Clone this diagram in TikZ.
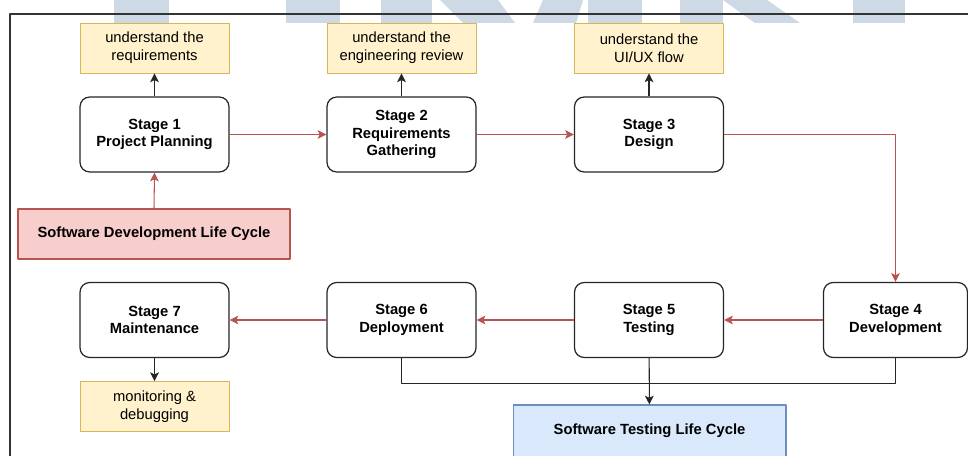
\documentclass[tikz,border=0pt]{standalone}
\usepackage{fontspec}
\setmainfont{Liberation Sans}
\usetikzlibrary{arrows.meta}
\definecolor{wmark}{RGB}{205,217,228}
\definecolor{ylwfill}{HTML}{FFF2CC}
\definecolor{ylwline}{HTML}{D6B656}
\definecolor{redfill}{HTML}{F8CECC}
\definecolor{redline}{HTML}{B85450}
\definecolor{bluefill}{HTML}{DAE8FC}
\definecolor{blueline}{HTML}{6C8EBF}
\begin{document}
\begin{tikzpicture}[x=0.02cm,y=-0.02cm,line join=round,font=\fontsize{8.4}{10.1}\selectfont,
	stage/.style={draw=black!85,line width=0.7pt,rounded corners=5.5pt,fill=white,minimum width=2.98cm,minimum height=1.5cm,align=center,font=\fontsize{8.4}{10.1}\selectfont\bfseries},
	note/.style={draw=ylwline,fill=ylwfill,line width=0.5pt,minimum width=2.98cm,minimum height=1cm,align=center},
	lifecycle/.style={line width=0.6pt,minimum width=5.44cm,minimum height=1cm,font=\fontsize{8.4}{10.1}\selectfont\bfseries},
	flow/.style={draw=redline,line width=0.6pt,-{Stealth[length=5pt,width=5pt,inset=1.2pt]}},
	link/.style={draw=black!85,line width=0.6pt,-{Stealth[length=5pt,width=5pt,inset=1.2pt]}}]
		\useasboundingbox (0,0) rectangle (968,456);
		\clip (0,0) rectangle (968,456);
		\fill[wmark] (114,0) rectangle (169,23);
		\fill[wmark] (286,0) rectangle (340,23);
		\fill[wmark] (381,0) rectangle (432,23);
		\fill[wmark] (440,0) -- (498,0) -- (515,23) -- (463,23) -- cycle;
		\fill[wmark] (543,0) -- (583,0) -- (576,23) -- (533,23) -- cycle;
		\fill[wmark] (588,0) rectangle (642,23);
		\fill[wmark] (680,0) rectangle (723,23);
		\fill[wmark] (723,0) -- (767,0) -- (800,23) -- (755,23) -- cycle;
		\fill[wmark] (853,0) rectangle (905,23);
		\draw[black!80,line width=0.7pt] (10,456) -- (10,14) -- (968,14);
		\node[note] (n1) at (154.5,48) {understand the\\requirements};
		\node[note] (n2) at (401.5,48) {understand the\\engineering review};
		\node[note] (n3) at (649,48) {understand the\\UI/UX flow};
		\node[stage] (s1) at (154.5,134.5) {Stage 1\\Project Planning};
		\node[stage] (s2) at (401.5,134.5) {Stage 2\\Requirements\\Gathering};
		\node[stage] (s3) at (649,134.5) {Stage 3\\Design};
		\node[lifecycle,draw=redline,fill=redfill] (sdlc) at (154,234) {Software Development Life Cycle};
		\node[stage,minimum width=2.88cm] (s4) at (895.5,320) {Stage 4\\Development};
		\node[stage] (s5) at (649,320) {Stage 5\\Testing};
		\node[stage] (s6) at (401.5,320) {Stage 6\\Deployment};
		\node[stage] (s7) at (154.5,320) {Stage 7\\Maintenance};
		\node[note] (n4) at (154.5,406.5) {monitoring \&\\debugging};
		\node[lifecycle,draw=blueline,fill=bluefill,minimum width=5.46cm,minimum height=1.04cm] (stlc) at (649.5,431) {Software Testing Life Cycle};
		\draw[flow] (s1) -- (s2);
		\draw[flow] (s2) -- (s3);
		\draw[flow] (s3.east) -| (s4.north);
		\draw[flow] (s4) -- (s5);
		\draw[flow] (s5) -- (s6);
		\draw[flow] (s6) -- (s7);
		\draw[flow] (sdlc.north) -- (s1.south);
		\draw[link] (s1) -- (n1);
		\draw[link] (s2) -- (n2);
		\draw[link] (s3) -- (n3);
		\draw[link] (s7) -- (n4);
		\draw[black!85,line width=0.6pt] (s6.south) -- ++(0,25) -| (s4.south);
		\draw[link] (s5) -- (stlc);
		\end{tikzpicture}
\end{document}
